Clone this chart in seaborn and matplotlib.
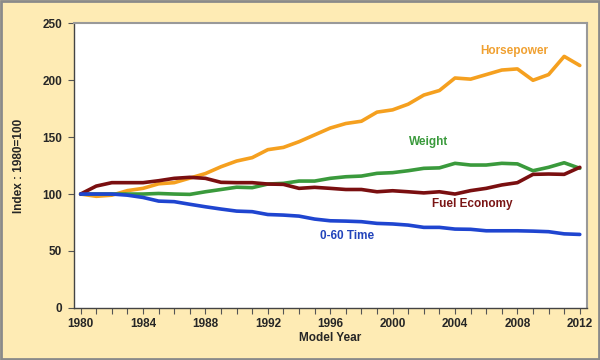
import pandas as pd
import matplotlib.pyplot as plt
import seaborn as sns
from matplotlib.ticker import MultipleLocator

# model years and index values (1980 = 100)
years = list(range(1980, 2013))
horsepower = [100, 98, 99, 103, 105, 109, 110, 114, 118, 124, 129, 132, 139, 141, 146,
              152, 158, 162, 164, 172, 174, 179, 187, 191, 202, 201, 205, 209, 210, 200,
              205, 221, 213]
weight = [100, 100, 100, 100, 100, 100.5, 100, 99.7, 102, 104, 106, 105.6, 108.8, 109.4, 111.4,
          111.4, 113.8, 115.2, 115.8, 118.2, 118.8, 120.5, 122.6, 123, 127, 125.5, 125.5, 127, 126.5, 120.5,
          123.5, 127.5, 122.6]
fuel_economy = [100, 107, 110, 110, 110, 111.7, 113.8, 114.7, 113.8, 110.3, 110, 110, 108.8, 108.5, 105,
                105.9, 105, 104, 104, 102, 102.9, 102, 101, 102, 100, 103, 105, 108, 110, 117.3,
                117.6, 117.3, 123.5]
zero_to_sixty = [100, 100, 100, 99, 97, 93.8, 93.3, 91, 88.8, 86.8, 85, 84.5, 82, 81.5, 80.6,
                 78, 76.5, 76.2, 75.7, 74.2, 73.7, 72.7, 70.7, 70.7, 69.2, 69, 67.7, 67.7, 67.7, 67.4,
                 66.9, 65, 64.5]

series = ['Horsepower', 'Weight', 'Fuel Economy', '0-60 Time']
colors = {'Horsepower': '#F5A01F', 'Weight': '#3A9A3C',
          'Fuel Economy': '#7A0F10', '0-60 Time': '#1F45D0'}
label_colors = {'Horsepower': '#F0A030', 'Weight': '#3A9A3C',
                'Fuel Economy': '#7A1515', '0-60 Time': '#2244BB'}
label_pos = {'Horsepower': (2007.8, 226), 'Weight': (2002.3, 145.5),
             'Fuel Economy': (2005.1, 91), '0-60 Time': (1997.1, 63)}

df = pd.DataFrame({'year': years, 'Horsepower': horsepower, 'Weight': weight,
                   'Fuel Economy': fuel_economy, '0-60 Time': zero_to_sixty})
long = df.melt(id_vars='year', var_name='series', value_name='index')

sns.set_style('white')
plt.rcParams['font.family'] = ['Liberation Sans', 'DejaVu Sans']

fig = plt.figure(figsize=(6, 3.6), dpi=100, facecolor='#FEEBB4')
ax = fig.add_axes([0.124, 0.145, 0.854, 0.79])
ax.set_facecolor('white')

sns.lineplot(data=long, x='year', y='index', hue='series', hue_order=series,
             palette=colors, linewidth=2.6, legend=False, ax=ax)

for s in series:
    x, y = label_pos[s]
    ax.text(x, y, s, color=label_colors[s], fontsize=8.5, fontweight='bold',
            ha='center', va='center')

ax.set_xlim(1979.6, 2012.45)
ax.set_ylim(0, 250)
ax.xaxis.set_major_locator(MultipleLocator(4))
ax.xaxis.set_minor_locator(MultipleLocator(1))
ax.yaxis.set_major_locator(MultipleLocator(50))
ax.tick_params(axis='both', which='both', direction='out', color='#555555',
               labelsize=8.5, pad=3)
ax.tick_params(axis='y', which='major', length=4, width=0.8, pad=5)
ax.tick_params(axis='x', which='both', length=4, width=0.8, bottom=True)
ax.tick_params(axis='y', which='both', left=True)
for lab in ax.get_xticklabels() + ax.get_yticklabels():
    lab.set_fontweight('bold')

for side in ['left', 'bottom']:
    ax.spines[side].set_color('#444444')
    ax.spines[side].set_linewidth(1.0)
for side in ['top', 'right']:
    ax.spines[side].set_color('#999999')
    ax.spines[side].set_linewidth(1.5)

ax.set_xlabel('Model Year', fontsize=8.5, fontweight='bold', labelpad=2)
ax.set_ylabel('Index : 1980=100', fontsize=8.5, fontweight='bold', labelpad=12)

# outer grey border of the picture
fig.patches.append(plt.Rectangle((0.002, 0.003), 0.996, 0.994, transform=fig.transFigure,
                                 fill=False, edgecolor='#8A8A8A', linewidth=2))

fig.savefig('out.png', dpi=100, facecolor=fig.get_facecolor())
